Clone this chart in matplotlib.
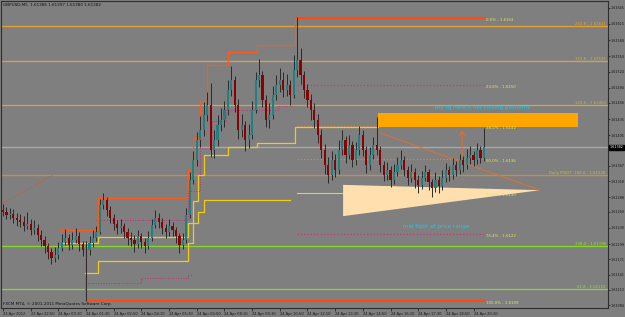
import numpy as np
import matplotlib.pyplot as plt
from matplotlib.transforms import blended_transform_factory

# GBPUSD M5 candles, prices given in pips above 1.6100
BASE = 1.61
first_open = 26.4
closes = [26.0, 25.4, 25.6, 24.9, 24.5, 24.1, 23.3, 23.7, 22.6, 23.0,
          21.6, 20.7, 19.6, 18.4, 17.3, 17.9, 19.2, 20.3, 21.1, 19.8,
          20.7, 21.5, 19.9, 18.8, 18.8, 20.1, 21.1, 22.2, 27.3, 28.2,
          26.4, 24.8, 23.7, 23.0, 23.3, 22.2, 21.1, 20.7, 19.9, 21.5,
          20.3, 19.6, 21.1, 23.5, 24.8, 24.1, 23.0, 22.2, 23.3, 22.6,
          21.5, 19.8, 20.7, 25.4, 32.0, 35.8, 39.6, 41.5, 44.3, 46.2,
          37.7, 39.6, 42.4, 43.3, 45.2, 49.0, 50.9, 46.2, 41.5, 42.4,
          39.6, 40.5, 45.2, 50.9, 51.8, 47.1, 43.3, 44.3, 48.1, 49.9,
          50.9, 49.0, 49.9, 48.1, 52.8, 54.7, 51.8, 49.0, 47.1, 45.2,
          43.3, 40.5, 37.7, 34.8, 33.0, 35.8, 33.9, 37.7, 39.6, 36.7,
          38.6, 35.8, 37.7, 40.5, 37.7, 34.8, 36.7, 38.6, 37.7, 34.8,
          33.0, 33.9, 32.0, 33.5, 34.8, 35.8, 33.9, 32.4, 33.5, 32.0,
          31.1, 32.4, 33.5, 31.6, 30.5, 32.0, 30.9, 32.4, 33.9, 33.0,
          34.8, 33.9, 35.8, 34.8, 36.2, 36.7, 35.8, 37.7, 36.2, 38.2]
highs = [27.5, 26.9, 26.8, 26.5, 25.8, 25.6, 25.2, 25.9, 24.6, 24.4,
         23.8, 22.5, 21.4, 20.2, 19.1, 19.4, 20.4, 21.9, 22.8, 21.9,
         22.3, 23.0, 22.2, 20.6, 20.5, 21.4, 22.6, 23.4, 28.5, 29.6,
         28.9, 27.1, 25.6, 24.5, 24.7, 24.0, 22.9, 22.2, 21.6, 22.6,
         22.1, 21.0, 22.4, 24.6, 26.3, 25.7, 24.9, 23.8, 24.6, 24.1,
         23.2, 22.0, 22.1, 26.8, 33.5, 37.4, 41.0, 44.0, 46.8, 48.6,
         50.3, 41.5, 44.2, 45.6, 47.0, 50.8, 53.6, 51.7, 47.3, 44.5,
         43.2, 42.6, 46.9, 52.4, 54.9, 52.6, 48.0, 46.6, 49.7, 51.8,
         53.1, 52.4, 52.0, 50.8, 55.6, 62.8, 56.9, 52.6, 50.1, 48.2,
         46.5, 44.4, 41.6, 38.9, 36.3, 37.4, 36.9, 39.6, 41.4, 40.3,
         40.5, 39.3, 39.2, 42.3, 41.4, 38.5, 38.2, 40.1, 43.9, 38.4,
         35.6, 35.4, 34.6, 35.0, 36.3, 37.6, 36.5, 34.7, 35.1, 34.2,
         32.9, 33.8, 34.9, 34.1, 32.3, 33.6, 32.8, 34.0, 35.2, 34.7,
         36.2, 35.6, 37.0, 36.6, 37.9, 38.4, 37.5, 39.0, 38.5, 41.8]
lows = [25.2, 24.6, 24.7, 23.9, 23.4, 23.2, 22.4, 22.8, 21.7, 21.9,
        20.5, 19.6, 18.2, 17.1, 16.2, 16.6, 17.2, 18.6, 19.7, 18.9,
        19.0, 20.1, 18.7, 17.6, 9.2, 17.9, 19.4, 20.6, 21.8, 26.5,
        25.3, 23.9, 22.5, 21.8, 22.1, 21.0, 19.8, 19.6, 18.5, 19.1,
        19.2, 18.3, 19.0, 20.5, 22.9, 23.0, 21.9, 21.0, 21.5, 21.4,
        20.2, 18.3, 19.0, 20.1, 24.9, 31.2, 34.6, 38.2, 40.3, 43.1,
        36.4, 36.2, 38.4, 41.3, 42.1, 44.3, 47.8, 44.8, 39.8, 40.1,
        37.4, 38.0, 39.8, 44.6, 49.6, 45.7, 42.1, 41.8, 43.5, 47.2,
        48.6, 47.6, 47.9, 46.2, 47.4, 51.5, 50.2, 47.4, 45.8, 43.4,
        41.9, 39.0, 36.1, 33.2, 31.5, 32.1, 32.6, 33.1, 36.8, 35.2,
        35.9, 34.4, 34.9, 36.8, 36.5, 33.4, 34.0, 35.9, 36.8, 33.5,
        31.8, 32.1, 30.7, 31.2, 32.8, 34.1, 32.8, 31.0, 31.6, 30.6,
        29.6, 30.3, 31.8, 30.2, 28.9, 29.8, 29.5, 30.1, 31.7, 31.9,
        32.3, 32.7, 33.2, 33.6, 34.1, 35.0, 34.6, 35.1, 35.3, 35.6]

time_ticks = list(range(0, 140, 8))
time_labels = ['23 Apr 2012', '23 Apr 22:50', '24 Apr 00:10', '24 Apr 01:30',
               '24 Apr 02:50', '24 Apr 04:10', '24 Apr 05:30', '24 Apr 06:50',
               '24 Apr 08:10', '24 Apr 09:30', '24 Apr 10:50', '24 Apr 12:10',
               '24 Apr 13:30', '24 Apr 14:50', '24 Apr 16:10', '24 Apr 17:30',
               '24 Apr 18:50', '24 Apr 20:10']
price_ticks = [1.61084, 1.61113, 1.61141, 1.61171, 1.61199, 1.61230, 1.61260,
               1.61288, 1.61318, 1.61347, 1.61405, 1.61435, 1.61466,
               1.61494, 1.61524, 1.61554, 1.61584, 1.61615, 1.61645]
bid = 1.61382
title = 'GBPUSD,M5  1.61386 1.61397 1.61380 1.61382'

# horizontal levels across the whole chart
level_prices = [1.61611, 1.61545, 1.61462, 1.61330, 1.61196, 1.61115]
level_names = ['261.8 - 1.61611', '161.8 - 1.61545', '123.6 - 1.61462',
               'Daily PIVOT  100.0 - 1.61330', '138.2 - 1.61196', '61.8 - 1.61115']
level_colors = ['#e2a234', '#e2a234', '#e2a234', '#cf8a3c', '#86dc24', '#86dc24']
label_colors = ['#e8a830', '#e8a830', '#e8a830', '#b4cc3a', '#96e030', '#96e030']

# fibonacci from the spike low to the spike high
fib_high, fib_low = 1.61626, 1.61092
fib_ratios = [0.0, 0.236, 0.382, 0.5, 0.618, 0.764, 1.0]
fib_styles = [('#ff4a12', '-', 1.6), ('#c8387a', ':', 0.9), ('#e0843a', ':', 0.9),
              ('#e0843a', ':', 0.9), ('#e8d828', '-', 0.8), ('#c8387a', ':', 0.9),
              ('#ff4a12', '-', 1.6)]
fib_high_bar, fib_low_bar, fib_end_bar = 85, 24, 139.3

# indicator channel lines (bar index, pips)
upper_x = [16.5, 27.5, 53.5, 55, 57, 59, 65, 73.5, 84.5, 85]
upper_y = [22.6, 28.6, 34.0, 40.0, 47.0, 53.7, 56.2, 57.5, 62.6, 62.6]
yel_up_x = [17, 27.5, 53.5, 55, 56.5, 58, 65, 73.5, 84.5, 108.5]
yel_up_y = [20.1, 21.3, 24.0, 28.0, 33.0, 36.7, 38.2, 39.0, 42.0, 42.0]
yel_lo_x = [23.7, 27.5, 53.5, 55, 56.5, 58, 83]
yel_lo_y = [14.5, 16.7, 20.1, 24.0, 26.0, 28.2, 28.2]
mid_x = [27, 53.5, 57, 60.5, 64.5, 79.5, 84]
mid_y = [24.5, 30.0, 38.0, 43.2, 45.2, 46.0, 46.0]
mid_lo_x = [23.7, 40, 53.5, 55]
mid_lo_y = [12.6, 13.5, 14.1, 14.1]


def px(p):
    return BASE + np.asarray(p) / 1e4


c = px(closes)
o = px([first_open] + closes[:-1])
hi = px(highs)
lo = px(lows)
x = np.arange(len(c))

fig = plt.figure(figsize=(6.25, 3.17), dpi=100, facecolor='#7f7f7f')
ax = fig.add_axes([1 / 625, 9 / 317, 607 / 625, 307 / 317], facecolor='#7f7f7f')

# full width levels
for p, name, col, lcol in zip(level_prices, level_names, level_colors, label_colors):
    ax.axhline(p, color=col, lw=0.9, zorder=1)
    ax.text(174.2, p + 0.000004, name, color=lcol, fontsize=2.8, ha='right', va='bottom')
ax.axhline(bid, color='#a8a8a8', lw=1.0, zorder=1)

# fibo levels
for r, (col, ls, lw) in zip(fib_ratios, fib_styles):
    p = fib_high - r * (fib_high - fib_low)
    start = fib_low_bar if r == 1.0 else fib_high_bar
    ax.plot([start, fib_end_bar], [p, p], color=col, ls=ls, lw=lw, zorder=2)
    ax.text(fib_end_bar + 0.3, p, f'{r * 100:.1f}% - {p:.4f}', color='#e8e850',
            fontsize=2.8, ha='left', va='top')
ax.plot([fib_low_bar, fib_low_bar], [fib_low, px(19.5)], color='#ff4a12', lw=1.4, zorder=2)

# channel lines
ax.plot(upper_x, px(upper_y), drawstyle='steps-post', color='#ff5a1e', lw=0.9, zorder=2)
ax.plot(yel_up_x, px(yel_up_y), drawstyle='steps-post', color='#f2cc10', lw=0.9, zorder=2)
ax.plot(yel_lo_x, px(yel_lo_y), drawstyle='steps-post', color='#f2cc10', lw=0.9, zorder=2)
ax.plot(mid_x, px(mid_y), drawstyle='steps-post', color='#c03070', ls=':', lw=0.7, zorder=2)
ax.plot(mid_lo_x, px(mid_lo_y), drawstyle='steps-post', color='#c03070', ls=':', lw=0.7, zorder=2)
ax.plot([-0.9, 14.5], px([27.3, 33.0]), color='#e05020', ls=':', lw=0.7, zorder=2)

# drawn objects
ax.fill_between([108.4, 166.2], px(44.7), px(42.0), color='#ffa500', lw=0, zorder=2.5)
ax.fill([98.3, 98.3, 155.2], px([31.1, 25.2, 30.1]), color='#ffdfae', lw=0, zorder=2.5)
ax.plot([109, 155.2], px([40.9, 30.1]), color='#e07030', lw=0.7, zorder=2.6)
ax.annotate('', xy=(132.7, px(42.0)), xytext=(132.7, px(35.8)),
            arrowprops=dict(arrowstyle='->', color='#e07030', lw=0.7), zorder=2.6)
ax.text(125.0, px(45.7), 'my tg here if not closing positions', color='#22c8e0',
        fontsize=4.1, ha='left', va='center')
ax.text(115.6, px(23.2), 'mid fight at price range', color='#22c8e0',
        fontsize=4.1, ha='left', va='center')

# candles
ax.vlines(x, lo, hi, color='#2a2a2a', lw=0.7, zorder=3)
body = np.where(np.abs(c - o) < 1e-7, 2e-6, c - o)
up = c >= o
ax.bar(x[up], body[up], bottom=o[up], width=0.62, color='#1e8282', lw=0, zorder=4)
ax.bar(x[~up], body[~up], bottom=o[~up], width=0.62, color='#8b0000', lw=0, zorder=4)

# axes
ax.set_xlim(-0.58, 174.86)
ax.set_ylim(px(7.87), px(65.79))
ax.yaxis.tick_right()
ax.set_yticks(price_ticks)
ax.set_yticklabels([f'{v:.5f}' for v in price_ticks])
ax.set_xticks(time_ticks)
ax.set_xticklabels(time_labels)
for lab in ax.get_xticklabels():
    lab.set_ha('left')
ax.tick_params(axis='y', labelsize=2.4, length=1.5, width=0.5, pad=0.6, colors='#151515')
ax.tick_params(axis='x', labelsize=2.6, length=2, width=0.5, pad=1, colors='#151515')
for s in ax.spines.values():
    s.set_color('#2e2e2e')
    s.set_linewidth(0.8)

tr = blended_transform_factory(ax.transAxes, ax.transData)
ax.text(1.002, bid, '1.61382', transform=tr, fontsize=2.4, color='white', ha='left',
        va='center', bbox=dict(facecolor='black', edgecolor='black', pad=0.4))
ax.text(0.004, 0.992, title, transform=ax.transAxes, fontsize=3.0, color='#111111',
        ha='left', va='top')
ax.text(0.004, 0.008, 'FXCM MT4, © 2001-2011 MetaQuotes Software Corp.', transform=ax.transAxes,
        fontsize=3.0, color='#111111', ha='left', va='bottom')

fig.savefig('out.png', dpi=100, facecolor=fig.get_facecolor())
